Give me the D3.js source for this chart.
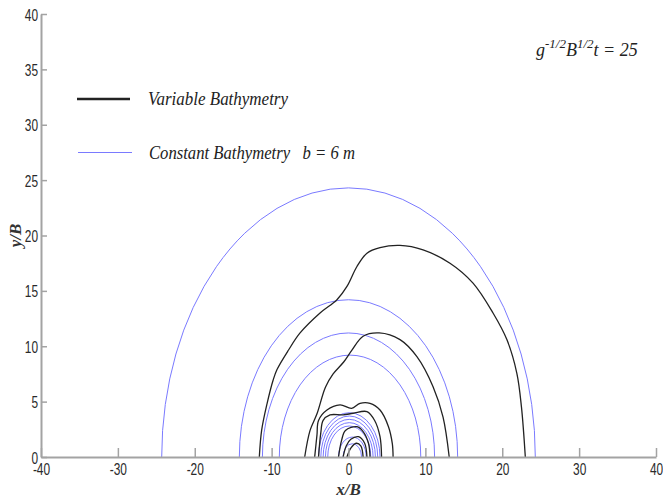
<!DOCTYPE html>
<html lang="en">
    <head>
        <meta charset="utf-8">
        <title>Wave front contours</title>
        <script src="https://d3js.org/d3.v7.min.js"></script>
        <style>
            body { margin: 0; background: #fff; }
        </style>
    </head>
    <body>
    <div id="mainDiv"></div>
        <script type="text/javascript">
            // ticks
            const xTicks = [-40, -30, -20, -10, 0, 10, 20, 30, 40]
            const yTicks = [0, 5, 10, 15, 20, 25, 30, 35, 40]

            // constant bathymetry fronts: circles (centre x, radius) in x/B units
            const blueCentres = [0.0, 0.0, 0.0, 0.2, 0.1, 0.1, 0.1, 0.1, 0.1, 0.5, 0.5]
            const blueRadii = [24.3, 14.2, 11.2, 9.2, 4.0, 3.7, 3.4, 3.1, 2.8, 1.8, 1.2]

            // variable bathymetry fronts
            const varFront1 = [[-11.6, 0], [-11.3, 2.4], [-10.6, 4.8], [-9.8, 6.95], [-9.3, 7.9], [-7.8, 9.66],
                [-6.3, 11.2], [-3.7, 13.0], [-1.5, 14.2], [-0.2, 15.4], [1.1, 17.2], [2.4, 18.4], [4.1, 18.9],
                [6.7, 19.1], [9.7, 18.7], [13.2, 17.5], [16.2, 15.7], [18.8, 13.0], [20.6, 10.6], [21.9, 7.56],
                [22.5, 4.5], [23.0, 0]]
            const varFront2 = [[-5.7, 0], [-5.0, 2.4], [-4.1, 3.9], [-3.0, 6.3], [-2.0, 7.5], [-0.6, 8.6],
                [0.4, 9.6], [1.9, 10.9], [4.0, 11.2], [6.7, 10.6], [8.9, 9.06], [11.0, 6.35], [12.3, 3.6], [13.1, 0]]
            const varFront3 = [[-4.4, 0], [-4.1, 2.0], [-3.9, 3.3], [-2.8, 4.24], [-1.1, 4.7], [0.4, 4.4],
                [1.5, 4.85], [2.8, 4.85], [4.1, 4.24], [5.2, 2.74], [5.7, 1.2], [5.8, 0]]
            const varFront4 = [[-3.9, 0], [-3.6, 2.2], [-3.3, 3.3], [-2.4, 3.8], [-0.7, 3.8], [0.6, 3.95],
                [2.4, 4.1], [3.4, 3.3], [4.1, 1.83], [4.3, 0]]
            const varFront5 = [[-1.3, 0], [-0.9, 1.5], [-0.4, 2.4], [1.1, 2.74], [1.9, 2.3], [2.6, 1.24], [2.8, 0]]
            const varFront6 = [[-0.7, 0], [-0.3, 1.0], [0.3, 1.6], [1.3, 1.83], [2.1, 1.24], [2.4, 0]]
            const varFront7 = [[-0.2, 0], [0.3, 0.8], [1.0, 1.24], [1.6, 1.0], [1.9, 0]]

            const width = 663
            const height = 500
            const blue = '#7a7aff'
            const black = '#222'
            const axisGrey = '#a3a3a3'

            const svg = d3.select('#mainDiv').append('svg')
                .attr('width', width)
                .attr('height', height)

            const xScale = d3.scaleLinear().domain([-40, 40]).range([41, 656])
            const yScale = d3.scaleLinear().domain([0, 40]).range([457, 14])

            // keep everything above the x axis
            svg.append('clipPath').attr('id', 'plotClip')
                .append('rect')
                .attr('x', xScale(-40)).attr('y', yScale(40))
                .attr('width', xScale(40) - xScale(-40))
                .attr('height', yScale(0) - yScale(40))

            const plot = svg.append('g').attr('clip-path', 'url(#plotClip)')

            plot.selectAll('ellipse')
                .data(blueRadii.map((r, i) => ({ r: r, cx: blueCentres[i] })))
                .enter()
                .append('ellipse')
                .attr('cx', d => xScale(d.cx))
                .attr('cy', yScale(0))
                .attr('rx', d => xScale(d.r) - xScale(0))
                .attr('ry', d => yScale(0) - yScale(d.r))
                .style('fill', 'none')
                .style('stroke', blue)
                .style('stroke-width', 1)

            const line = d3.line()
                .x(d => xScale(d[0]))
                .y(d => yScale(d[1]))
                .curve(d3.curveCatmullRom)

            plot.selectAll('path.var')
                .data([varFront1, varFront2, varFront3, varFront4, varFront5, varFront6, varFront7])
                .enter()
                .append('path')
                .attr('class', 'var')
                .attr('d', line)
                .style('fill', 'none')
                .style('stroke', black)
                .style('stroke-width', 1.3)

            // axes, ticks pointing inward, narrow labels with a plain hyphen
            const tickFont = '"Liberation Sans Narrow", "Liberation Sans", Arial, sans-serif'
            const fmt = d => String(d)
            const xAxis = d3.axisBottom(xScale).tickValues(xTicks).tickFormat(fmt)
                .tickSizeInner(-9).tickSizeOuter(0).tickPadding(11)
            const yAxis = d3.axisLeft(yScale).tickValues(yTicks).tickFormat(fmt)
                .tickSizeInner(-6).tickSizeOuter(0).tickPadding(3)

            const gx = svg.append('g').attr('transform', `translate(0, ${yScale(0)})`).call(xAxis)
            const gy = svg.append('g').attr('transform', `translate(${xScale(-40)}, 0)`).call(yAxis)
            for (const g of [gx, gy]) {
                g.select('.domain').style('stroke', axisGrey).style('stroke-width', 2)
                g.selectAll('.tick line').style('stroke', axisGrey).style('stroke-width', 1.5)
                g.selectAll('.tick text')
                    .style('font-family', tickFont).style('font-size', '16px').style('fill', '#2a2a2a')
                    .attr('textLength', d => String(Math.abs(d)).length * 6.6 + (d < 0 ? 4 : 0))
                    .attr('lengthAdjust', 'spacingAndGlyphs')
            }
            gx.selectAll('.tick text').attr('dy', '0.42em')
            gy.selectAll('.tick text').attr('dy', '0.38em')

            const serif = '"Liberation Serif", "Times New Roman", serif'

            // axis titles
            svg.append('text')
                .attr('x', xScale(0)).attr('y', 495)
                .attr('text-anchor', 'middle')
                .style('font-family', serif).style('font-style', 'italic').style('font-weight', 'bold')
                .style('font-size', '17px').style('fill', '#333')
                .text('x/B')
            svg.append('text')
                .attr('transform', `translate(21, ${yScale(20)}) rotate(-90)`)
                .attr('text-anchor', 'middle')
                .style('font-family', serif).style('font-style', 'italic').style('font-weight', 'bold')
                .style('font-size', '17px').style('fill', '#333')
                .text('y/B')

            // time annotation
            const note = svg.append('text')
                .attr('x', 536).attr('y', 56)
                .style('font-family', serif).style('font-style', 'italic')
                .style('font-size', '18px').style('fill', '#222')
            note.append('tspan').text('g')
            note.append('tspan').attr('dy', -8).style('font-size', '13px').text('-1/2')
            note.append('tspan').attr('dy', 8).text('B')
            note.append('tspan').attr('dy', -8).style('font-size', '13px').text('1/2')
            note.append('tspan').attr('dy', 8).text('t = 25')

            // legend
            const legend = svg.append('g')
            legend.append('line')
                .attr('x1', 77).attr('x2', 130).attr('y1', 99).attr('y2', 99)
                .style('stroke', black).style('stroke-width', 2.5)
            legend.append('text')
                .attr('x', 148).attr('y', 105)
                .attr('textLength', 140).attr('lengthAdjust', 'spacingAndGlyphs')
                .style('font-family', serif).style('font-style', 'italic')
                .style('font-size', '19px').style('fill', '#222')
                .text('Variable Bathymetry')
            legend.append('line')
                .attr('x1', 78).attr('x2', 132).attr('y1', 152.5).attr('y2', 152.5)
                .style('stroke', blue).style('stroke-width', 1.2)
            legend.append('text')
                .attr('x', 149).attr('y', 159)
                .attr('textLength', 206).attr('lengthAdjust', 'spacingAndGlyphs')
                .attr('xml:space', 'preserve')
                .style('white-space', 'pre')
                .style('font-family', serif).style('font-style', 'italic')
                .style('font-size', '19px').style('fill', '#222')
                .text('Constant Bathymetry   b = 6 m')
        </script>
    </body>
</html>
